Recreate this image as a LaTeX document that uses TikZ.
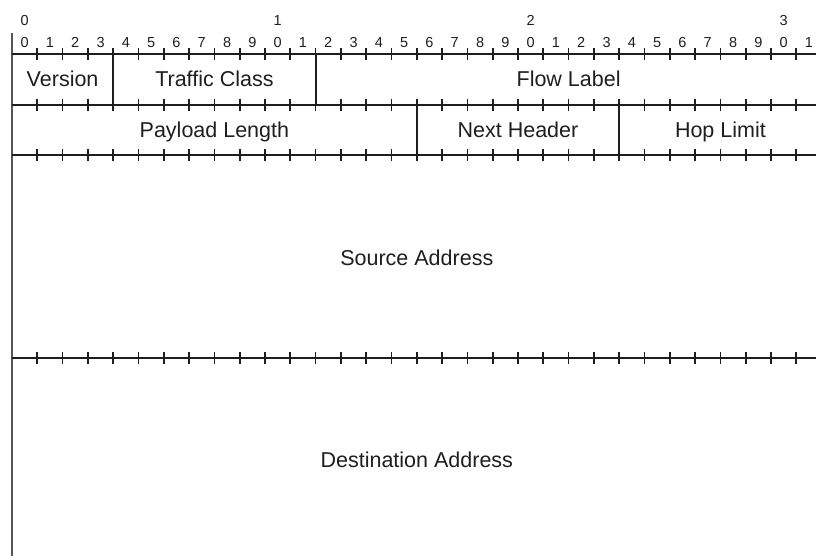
\documentclass[tikz,border=0pt]{standalone}
\usepackage{fontspec}
\setmainfont{Liberation Sans}
\definecolor{ink}{HTML}{1E1E1E}
\definecolor{leftink}{HTML}{555555}
\begin{document}
\begin{tikzpicture}[x=1pt,y=-1pt,
  rule/.style={draw=ink,line width=2pt},
  tickmark/.style={draw=ink,line width=1.7pt},
  fieldlabel/.style={font=\fontsize{21.5}{24}\selectfont,text=ink,inner sep=0pt,anchor=base},
  bitnum/.style={font=\fontsize{14.5}{16}\selectfont,text=ink,inner sep=0pt,anchor=base}]
\useasboundingbox (0,0) rectangle (816,556);
\pgfmathsetmacro{\bw}{25.3}
% bit numbers
\foreach \t in {0,1,2,3}{
  \node[bitnum] (ten\t) at ({12+\bw*(10*\t+0.5)},25.5) {\t};}
\foreach \b in {0,...,31}{
  \pgfmathtruncatemacro{\u}{mod(\b,10)}
  \node[bitnum] (unit\b) at ({12+\bw*(\b+0.5)},47.5) {\u};}
% left vertical line
\draw[draw=leftink,line width=2.6pt] (12,33) -- (12,560);
% horizontal rules with ticks
\foreach \y in {54,104.7,155.4,358}{
  \draw[rule] (12,\y) -- (816,\y);
  \foreach \b in {1,...,31}{
    \draw[tickmark] ({12+\bw*\b},\y-6) -- ({12+\bw*\b},\y+6);}
}
% field dividers
\draw[rule] ({12+\bw*4},54) -- ({12+\bw*4},104.7);
\draw[rule] ({12+\bw*12},54) -- ({12+\bw*12},104.7);
\draw[rule] ({12+\bw*16},104.7) -- ({12+\bw*16},155.4);
\draw[rule] ({12+\bw*24},104.7) -- ({12+\bw*24},155.4);
% labels
\node[fieldlabel] (version) at ({12+\bw*2},87) {Version};
\node[fieldlabel] (tclass) at ({12+\bw*8},87) {Traffic Class};
\node[fieldlabel] (flow) at ({12+\bw*22},87) {Flow Label};
\node[fieldlabel] (plen) at ({12+\bw*8},138) {Payload Length};
\node[fieldlabel] (nexth) at ({12+\bw*20},138) {Next Header};
\node[fieldlabel] (hop) at ({12+\bw*28},138) {Hop Limit};
\node[fieldlabel] (src) at ({12+\bw*16},265) {Source Address};
\node[fieldlabel] (dst) at ({12+\bw*16},467) {Destination Address};
\end{tikzpicture}
\end{document}
